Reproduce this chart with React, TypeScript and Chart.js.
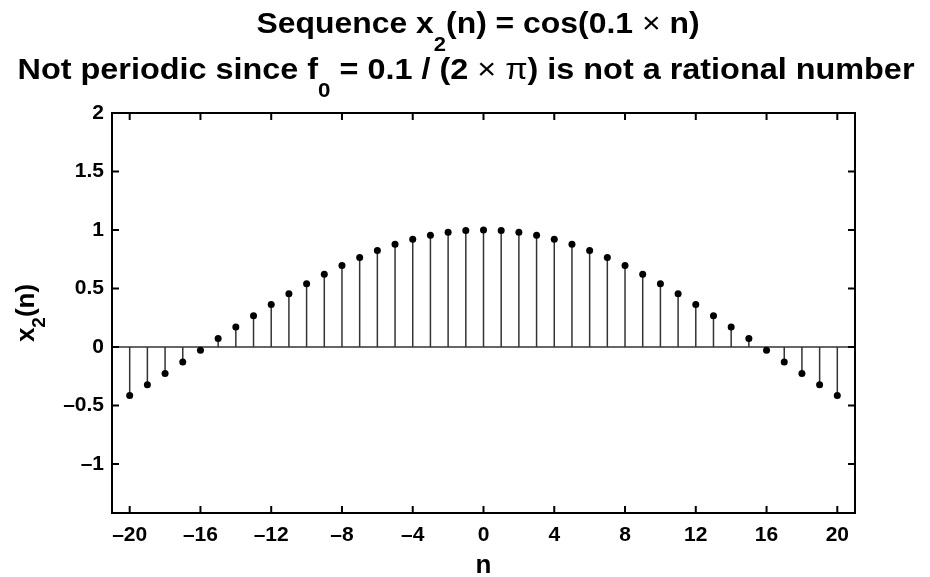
import React, { useEffect, useRef } from "react";
import { Chart, registerables } from "chart.js";

Chart.register(...registerables);

const N_VALUES: number[] = [
  -20, -19, -18, -17, -16, -15, -14, -13, -12, -11, -10, -9, -8, -7, -6, -5, -4, -3, -2, -1,
  0, 1, 2, 3, 4, 5, 6, 7, 8, 9, 10, 11, 12, 13, 14, 15, 16, 17, 18, 19, 20,
];
const X2_VALUES: number[] = [
  -0.416, -0.323, -0.227, -0.129, -0.029, 0.071, 0.170, 0.267, 0.362, 0.454, 0.540, 0.622,
  0.697, 0.765, 0.825, 0.878, 0.921, 0.955, 0.980, 0.995, 1.0, 0.995, 0.980, 0.955, 0.921,
  0.878, 0.825, 0.765, 0.697, 0.622, 0.540, 0.454, 0.362, 0.267, 0.170, 0.071, -0.029,
  -0.129, -0.227, -0.323, -0.416,
];
const X_TICKS: number[] = [-20, -16, -12, -8, -4, 0, 4, 8, 12, 16, 20];
const Y_TICKS: number[] = [-1, -0.5, 0, 0.5, 1, 1.5, 2];
const X_RANGE: number[] = [-21, 21];
const Y_RANGE: number[] = [-1.42, 2];

const FONT = "'Liberation Sans', Arial, Helvetica, sans-serif";

type Seg = { t: string; size: number; weight?: string; dy?: number };

function drawRich(ctx: CanvasRenderingContext2D, segs: Seg[], cx: number, baseY: number, sx = 1) {
  let total = 0;
  const widths: number[] = [];
  for (const s of segs) {
    ctx.font = `${s.weight ?? "bold"} ${s.size}px ${FONT}`;
    const w = ctx.measureText(s.t).width;
    widths.push(w);
    total += w;
  }
  ctx.save();
  ctx.translate(cx, baseY);
  ctx.scale(sx, 1);
  let x = -total / 2;
  ctx.textAlign = "left";
  ctx.textBaseline = "alphabetic";
  segs.forEach((s, i) => {
    ctx.font = `${s.weight ?? "bold"} ${s.size}px ${FONT}`;
    ctx.fillText(s.t, x, s.dy ?? 0);
    x += widths[i];
  });
  ctx.restore();
}

const fmt = (v: number) => (v < 0 ? "\u2013" + String(-v) : String(v));

const stemPlugin = {
  id: "stems",
  beforeDatasetsDraw(chart: any) {
    const { ctx, chartArea, scales } = chart;
    const y0 = scales.y.getPixelForValue(0);
    ctx.save();
    ctx.strokeStyle = "#333";
    ctx.lineWidth = 1.5;
    ctx.beginPath();
    ctx.moveTo(chartArea.left, y0);
    ctx.lineTo(chartArea.right, y0);
    ctx.stroke();
    const meta = chart.getDatasetMeta(0);
    meta.data.forEach((pt: any) => {
      ctx.beginPath();
      ctx.moveTo(pt.x, y0);
      ctx.lineTo(pt.x, pt.y);
      ctx.stroke();
    });
    ctx.restore();
  },
  afterDraw(chart: any) {
    const { ctx, chartArea, scales } = chart;
    const { left, right, top, bottom } = chartArea;
    ctx.save();
    ctx.strokeStyle = "#000";
    ctx.lineWidth = 2;
    ctx.strokeRect(left, top, right - left, bottom - top);
    const tl = 7;
    ctx.beginPath();
    X_TICKS.forEach((v) => {
      const x = scales.x.getPixelForValue(v);
      ctx.moveTo(x, bottom);
      ctx.lineTo(x, bottom - tl);
      ctx.moveTo(x, top);
      ctx.lineTo(x, top + tl);
    });
    Y_TICKS.forEach((v) => {
      const y = scales.y.getPixelForValue(v);
      ctx.moveTo(left, y);
      ctx.lineTo(left + tl, y);
      ctx.moveTo(right, y);
      ctx.lineTo(right - tl, y);
    });
    ctx.stroke();

    ctx.fillStyle = "#000";
    const cx = (left + right) / 2;
    drawRich(
      ctx,
      [
        { t: "Sequence x", size: 29 },
        { t: "2", size: 20, dy: 18 },
        { t: "(n) = cos(0.1 ", size: 29 },
        { t: "\u00d7", size: 29, weight: "normal" },
        { t: " n)", size: 29 },
      ],
      478,
      33,
      1.1
    );
    drawRich(
      ctx,
      [
        { t: "Not periodic since f", size: 29 },
        { t: "0", size: 20, dy: 18 },
        { t: " = 0.1 / (2 ", size: 29 },
        { t: "\u00d7", size: 29, weight: "normal" },
        { t: " \u03c0", size: 29, weight: "normal" },
        { t: ") is not a rational number", size: 29 },
      ],
      466,
      79,
      1.117
    );
    drawRich(ctx, [{ t: "n", size: 26 }], cx, 573);

    ctx.translate(34, (top + bottom) / 2);
    ctx.rotate(-Math.PI / 2);
    drawRich(
      ctx,
      [
        { t: "x", size: 26 },
        { t: "2", size: 19, dy: 11 },
        { t: "(n)", size: 26 },
      ],
      0,
      0
    );
    ctx.restore();
  },
};

export default function App() {
  const ref = useRef<HTMLCanvasElement | null>(null);
  useEffect(() => {
    if (!ref.current) return;
    const tickFont = { family: FONT, size: 21, weight: "bold" as const };
    const chart = new Chart(ref.current, {
      type: "scatter",
      data: {
        datasets: [
          {
            data: N_VALUES.map((n, i) => ({ x: n, y: X2_VALUES[i] })),
            pointRadius: 3.5,
            pointBackgroundColor: "#000",
            pointBorderColor: "#000",
            pointBorderWidth: 0,
            showLine: false,
          },
        ],
      },
      options: {
        animation: false,
        responsive: false,
        devicePixelRatio: 1,
        layout: { padding: { top: 113, right: 75, left: 0, bottom: 0 } },
        plugins: { legend: { display: false }, tooltip: { enabled: false }, title: { display: false } },
        scales: {
          x: {
            type: "linear",
            min: X_RANGE[0],
            max: X_RANGE[1],
            afterBuildTicks: (s: any) => {
              s.ticks = X_TICKS.map((v) => ({ value: v }));
            },
            afterFit: (s: any) => {
              s.height = 64;
            },
            ticks: { font: tickFont, color: "#000", padding: 10, maxRotation: 0, autoSkip: false, callback: (v: any) => fmt(Number(v)) },
            grid: { display: false, drawTicks: false },
            border: { display: false },
          },
          y: {
            type: "linear",
            min: Y_RANGE[0],
            max: Y_RANGE[1],
            afterBuildTicks: (s: any) => {
              s.ticks = Y_TICKS.map((v) => ({ value: v }));
            },
            afterFit: (s: any) => {
              s.width = 112;
            },
            ticks: { font: tickFont, color: "#000", padding: 8, autoSkip: false, callback: (v: any) => fmt(Number(v)) },
            grid: { display: false, drawTicks: false },
            border: { display: false },
          },
        },
      },
      plugins: [stemPlugin],
    });
    return () => chart.destroy();
  }, []);
  return (
    <div style={{ position: "fixed", left: 0, top: 0, width: 930, height: 577, background: "#fff" }}>
      <canvas ref={ref} width={930} height={577} style={{ display: "block" }} />
    </div>
  );
}
